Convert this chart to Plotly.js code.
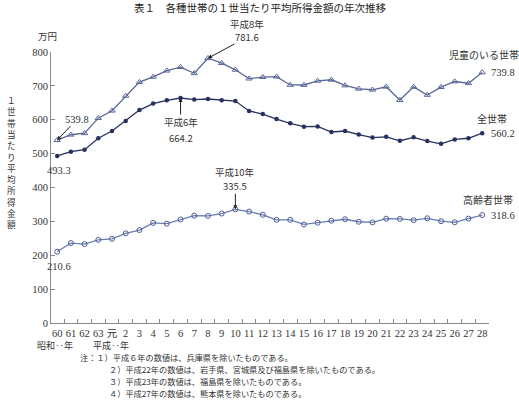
<!DOCTYPE html>
<html><head><meta charset="utf-8">
<script src="https://cdn.plot.ly/plotly-3.0.1.min.js"></script>
<style>html,body{margin:0;padding:0;background:#fff}#chart{width:519px;height:404px}</style>
</head><body><div id="chart"></div>
<script>
const years = ['60','61','62','63','元','2','3','4','5','6','7','8','9','10','11','12','13','14','15','16','17','18','19','20','21','22','23','24','25','26','27','28'];
const allHouseholds = [493.3,505.6,511.5,545.3,566.7,596.6,628.6,647.8,657.5,664.2,659.6,661.2,657.7,655.2,626.0,616.9,602.0,589.3,579.7,580.4,563.8,566.8,556.2,547.5,549.6,538.0,548.2,537.2,528.9,541.9,545.4,560.2];
const withChildren = [539.8,555.7,560.2,604.7,626.7,670.4,711.1,726.5,744.9,755.5,737.2,781.6,767.1,747.4,721.4,725.8,727.2,702.7,702.6,714.9,718.0,701.2,691.4,688.5,697.3,658.1,697.0,673.2,696.3,712.9,707.8,739.8];
const elderly = [210.6,236.0,232.8,245.5,248.5,264.6,274.4,295.6,293.1,305.5,316.8,316.1,323.1,335.5,328.9,319.5,304.6,304.6,290.9,296.1,301.9,306.3,298.9,297.0,307.9,307.2,303.6,309.1,300.5,297.3,308.1,318.6];
const seriesNames = ['全世帯','児童のいる世帯','高齢者世帯'];
const titleText = '表１　各種世帯の１世当たり平均所得金額の年次推移';
const yTitle = '１世帯当たり平均所得金額';
const notes = [
  '注：１）平成６年の数値は、兵庫県を除いたものである。',
  '２）平成22年の数値は、岩手県、宮城県及び福島県を除いたものである。',
  '３）平成23年の数値は、福島県を除いたものである。',
  '４）平成27年の数値は、熊本県を除いたものである。'
];

const L=51, R=489, T=52, B=323, W=519, H=404;
const px = x => (x - L)/(R - L);
const py = y => (B - y)/(B - T);
const serif = 'Liberation Serif, Noto Sans CJK JP, serif';
const goth = 'Noto Sans CJK JP, sans-serif';

const traces = [
  {x: years, y: allHouseholds, name: seriesNames[0], mode:'lines+markers',
   line:{color:'#27305e', width:1.3}, marker:{symbol:'circle', size:4.5, color:'#27305e'}},
  {x: years, y: withChildren, name: seriesNames[1], mode:'lines+markers',
   line:{color:'#5a6898', width:1.3}, marker:{symbol:'triangle-up-open', size:5.5, color:'#5a6898', line:{width:1}}},
  {x: years, y: elderly, name: seriesNames[2], mode:'lines+markers',
   line:{color:'#6a7cb4', width:1.3}, marker:{symbol:'circle-open', size:5, color:'#4f5f96', line:{width:1}}}
];

function txt(x, y, text, size, family, align, color){
  return {xref:'paper', yref:'paper', x:px(x), y:py(y), text:text, showarrow:false,
    xanchor: align||'center', yanchor:'middle', font:{size:size, family:family, color:color||'#333'}};
}
const last = years.length - 1;
const numFont = {size:10.5, family:serif, color:'#333'};
const jpFont = {size:9.5, family:goth, color:'#333'};
const arrowStyle = {showarrow:true, arrowhead:2, arrowsize:0.8, arrowwidth:1, arrowcolor:'#222'};
const ann = [];
ann.push(txt(260, 8, titleText, 10.5, goth, 'center', '#222'));
ann.push(txt(47, 36, '万円', 9.5, goth, 'center'));
Array.from(yTitle).forEach((ch, i) => {
  const a = txt(11, 100 + i*11.3, ch, 8.6, goth, 'center');
  a.borderpad = 0;
  ann.push(a);
});
// end labels
ann.push(txt(484, 55, seriesNames[1], 10, goth, 'center'));
ann.push(txt(492, 118, seriesNames[0], 10, goth, 'center'));
ann.push(txt(488, 199, seriesNames[2], 10, goth, 'center'));
ann.push({x: last, y: withChildren[last], text: withChildren[last].toFixed(1), showarrow:false, xanchor:'left', xshift:7, font:numFont});
ann.push({x: last, y: allHouseholds[last], text: allHouseholds[last].toFixed(1), showarrow:false, xanchor:'left', xshift:7, font:numFont});
ann.push({x: last, y: elderly[last], text: elderly[last].toFixed(1), showarrow:false, xanchor:'left', xshift:7, font:numFont});
// start labels
ann.push(Object.assign({x: 0, y: withChildren[0], text: withChildren[0].toFixed(1), ax:20, ay:-21, font:numFont}, arrowStyle));
ann.push({x: 0, y: allHouseholds[0], text: allHouseholds[0].toFixed(1), showarrow:false, xanchor:'center', yshift:-15, xshift:2, font:numFont});
ann.push({x: 0, y: elderly[0], text: elderly[0].toFixed(1), showarrow:false, xanchor:'center', yshift:-15, xshift:2, font:numFont});
// peak labels (H6 all households)
ann.push(Object.assign({x: 9, y: allHouseholds[9], text:'平成6年', ax:0, ay:24, font:jpFont, borderpad:0}, arrowStyle));
ann.push({x: 9, y: allHouseholds[9], text: allHouseholds[9].toFixed(1), showarrow:false, yshift:-40, font:jpFont, borderpad:0});
// H8 with children
ann.push(Object.assign({x: 11, y: withChildren[11], text: withChildren[11].toFixed(1), ax:39, ay:-21, font:jpFont, borderpad:0}, arrowStyle));
ann.push({x: 11, y: withChildren[11], text:'平成8年', showarrow:false, xshift:39, yshift:34, font:jpFont, borderpad:0});
// H10 elderly
ann.push(Object.assign({x: 13, y: elderly[13], text: elderly[13].toFixed(1), ax:0, ay:-23, font:jpFont, borderpad:0}, arrowStyle));
ann.push({x: 13, y: elderly[13], text:'平成10年', showarrow:false, yshift:37, font:jpFont, borderpad:0});
// era labels
ann.push(txt(55, 345, '昭和‥年', 9, goth, 'center'));
ann.push(txt(111, 345, '平成‥年', 9, goth, 'center'));
// notes
ann.push(txt(78, 357, notes[0], 8.2, goth, 'left'));
ann.push(txt(107, 369, notes[1], 8.2, goth, 'left'));
ann.push(txt(107, 381, notes[2], 8.2, goth, 'left'));
ann.push(txt(107, 393, notes[3], 8.2, goth, 'left'));

const layout = {
  width: W, height: H,
  margin:{l:L, r:W-R, t:T, b:H-B, pad:0},
  paper_bgcolor:'#fff', plot_bgcolor:'#fff',
  showlegend:false,
  xaxis:{type:'category', range:[-0.45, 31.5], showgrid:false, zeroline:false,
    showline:true, linecolor:'#888', linewidth:1, ticks:'inside', ticklen:4, tickcolor:'#888',
    tickson:'boundaries', tickfont:{size:10.5, family:serif, color:'#333'}, tickangle:0},
  yaxis:{range:[0,800], dtick:100, showgrid:false, zeroline:false,
    showline:true, linecolor:'#888', linewidth:1, ticks:'inside', ticklen:4, tickcolor:'#888',
    tickfont:{size:10.5, family:serif, color:'#333'}},
  annotations: ann
};
Plotly.newPlot('chart', traces, layout, {staticPlot:true, displayModeBar:false});
</script></body></html>
